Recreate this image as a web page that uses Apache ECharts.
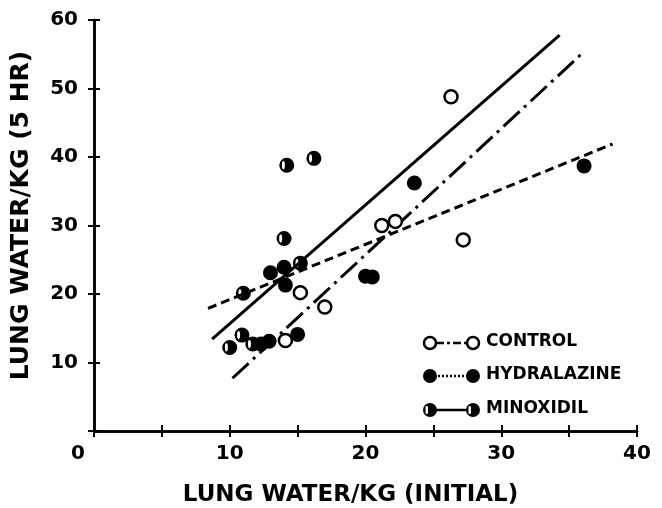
<!DOCTYPE html>
<html>
<head>
<meta charset="utf-8">
<script src="https://cdn.jsdelivr.net/npm/echarts@6/dist/echarts.min.js"></script>
<style>
    html, body { margin: 0; padding: 0; background: #fff; }
    #chart { width: 662px; height: 508px; }
</style>
</head>
<body>
<div id="chart"></div>
<script>
// 数据
var xTicks = [0, 10, 20, 30, 40];
var yTicks = [10, 20, 30, 40, 50, 60];

var controlPts = [[15.2, 20.2], [17.0, 18.1], [14.1, 13.2], [21.2, 30.0], [22.2, 30.6], [26.3, 48.8], [27.2, 27.9]];
var hydralazinePts = [[13.0, 23.1], [14.0, 23.9], [14.1, 21.3], [12.3, 12.7], [12.9, 13.1], [15.0, 14.1],
    [20.0, 22.6], [20.5, 22.5], [23.6, 36.2], [36.1, 38.7]];
var minoxidilPts = [[14.2, 38.8], [16.2, 39.8], [14.0, 28.1], [11.0, 20.1], [15.2, 24.5], [10.0, 12.2],
    [10.9, 14.0], [11.7, 12.7]];

var controlLine = [[10.2, 7.7], [36.0, 55.2]];
var hydralazineLine = [[8.4, 17.9], [38.2, 41.9]];
var minoxidilLine = [[8.7, 13.4], [34.3, 57.8]];

var legendNames = ['CONTROL', 'HYDRALAZINE', 'MINOXIDIL'];

var FONT = 'DejaVu Sans';
// 黑色圆点, 左侧有一条白色缝
var halfSymbol = 'path://M0,-10 A10,10 0 1,1 0,10 A10,10 0 1,1 0,-10 Z M-4.5,-5.5 A2,5.5 0 1,0 -4.5,5.5 A2,5.5 0 1,0 -4.5,-5.5 Z';

var myChart = echarts.init(document.getElementById('chart'));

function lineSeries(data, type) {
    return {
        type: 'line',
        data: data,
        symbol: 'none',
        silent: true,
        z: 2,
        lineStyle: { color: '#000', width: 3, type: type }
    };
}

function legendRow(y, idx, dash) {
    var items = [{
        type: 'line',
        shape: { x1: 430, y1: y, x2: 473, y2: y },
        style: { stroke: '#000', lineWidth: 2.5, lineDash: dash }
    }];
    [430, 473].forEach(function (cx) {
        if (idx === 0) {
            items.push({ type: 'circle', shape: { cx: cx, cy: y, r: 6 }, style: { fill: '#fff', stroke: '#000', lineWidth: 2.5 } });
        } else {
            items.push({ type: 'circle', shape: { cx: cx, cy: y, r: 7 }, style: { fill: '#000' } });
            if (idx === 2) {
                items.push({ type: 'rect', shape: { x: cx - 4.5, y: y - 4, width: 2.5, height: 8, r: 1.2 }, style: { fill: '#fff' } });
            }
        }
    });
    items.push({
        type: 'text', left: 486, top: y - 10,
        style: { text: legendNames[idx], font: 'bold 17px "' + FONT + '"', fill: '#000' }
    });
    return items;
}

var axisCommon = {
    type: 'value',
    axisLine: { show: true, lineStyle: { color: '#000', width: 2.5 } },
    axisTick: { show: true, inside: true, length: 6, lineStyle: { color: '#000', width: 2 } },
    splitLine: { show: false }
};

var labelStyle = { fontFamily: FONT, fontWeight: 'bold', fontSize: 20, color: '#000' };

myChart.setOption({
    animation: false,
    backgroundColor: '#fff',
    grid: { left: 94, right: 25, top: 20, bottom: 77, outerBoundsMode: 'none', containLabel: false },
    xAxis: [
        Object.assign({}, axisCommon, {
            min: 0, max: 40, interval: 5,
            name: 'LUNG WATER/KG (INITIAL)',
            nameLocation: 'middle',
            nameGap: 53,
            nameTextStyle: { fontFamily: FONT, fontWeight: 'bold', fontSize: 23, color: '#000', padding: [0, 30, 0, 0] },
            axisLabel: Object.assign({}, labelStyle, {
                margin: 13,
                formatter: function (v) {
                    if (v === 0) return '{z|0}';
                    return xTicks.indexOf(v) >= 0 ? String(v) : '';
                },
                rich: { z: Object.assign({}, labelStyle, { padding: [0, 32, 0, 0] }) }
            })
        }),
        Object.assign({}, axisCommon, { position: 'top', min: 0, max: 40, interval: 5, axisLabel: { show: false } })
    ],
    yAxis: [
        Object.assign({}, axisCommon, {
            min: 0, max: 60, interval: 10,
            name: 'LUNG WATER/KG (5 HR)',
            nameLocation: 'middle',
            nameGap: 60,
            nameTextStyle: { fontFamily: FONT, fontWeight: 'bold', fontSize: 25, color: '#000', padding: [0, 0, 0, 20] },
            axisLabel: Object.assign({}, labelStyle, {
                margin: 16,
                formatter: function (v) { return yTicks.indexOf(v) >= 0 ? String(v) : ''; }
            })
        }),
        Object.assign({}, axisCommon, { position: 'right', min: 0, max: 60, interval: 10, axisLabel: { show: false } })
    ],
    series: [
        lineSeries(controlLine, [22, 6, 3, 6]),
        lineSeries(hydralazineLine, [9, 5]),
        lineSeries(minoxidilLine, 'solid'),
        {
            type: 'scatter', data: controlPts, symbol: 'circle', symbolSize: 13, z: 5,
            itemStyle: { color: '#fff', borderColor: '#000', borderWidth: 2.5, opacity: 1 }
        },
        {
            type: 'scatter', data: hydralazinePts, symbol: 'circle', symbolSize: 15, z: 5,
            itemStyle: { color: '#000', opacity: 1 }
        },
        {
            type: 'scatter', data: minoxidilPts, symbol: halfSymbol, symbolSize: 15, z: 5,
            itemStyle: { color: '#000', opacity: 1 }
        }
    ],
    graphic: [].concat(
        legendRow(343, 0, [3, 3, 8, 3]),
        legendRow(376, 1, [2, 2]),
        legendRow(410, 2, null)
    )
});
</script>
</body>
</html>
